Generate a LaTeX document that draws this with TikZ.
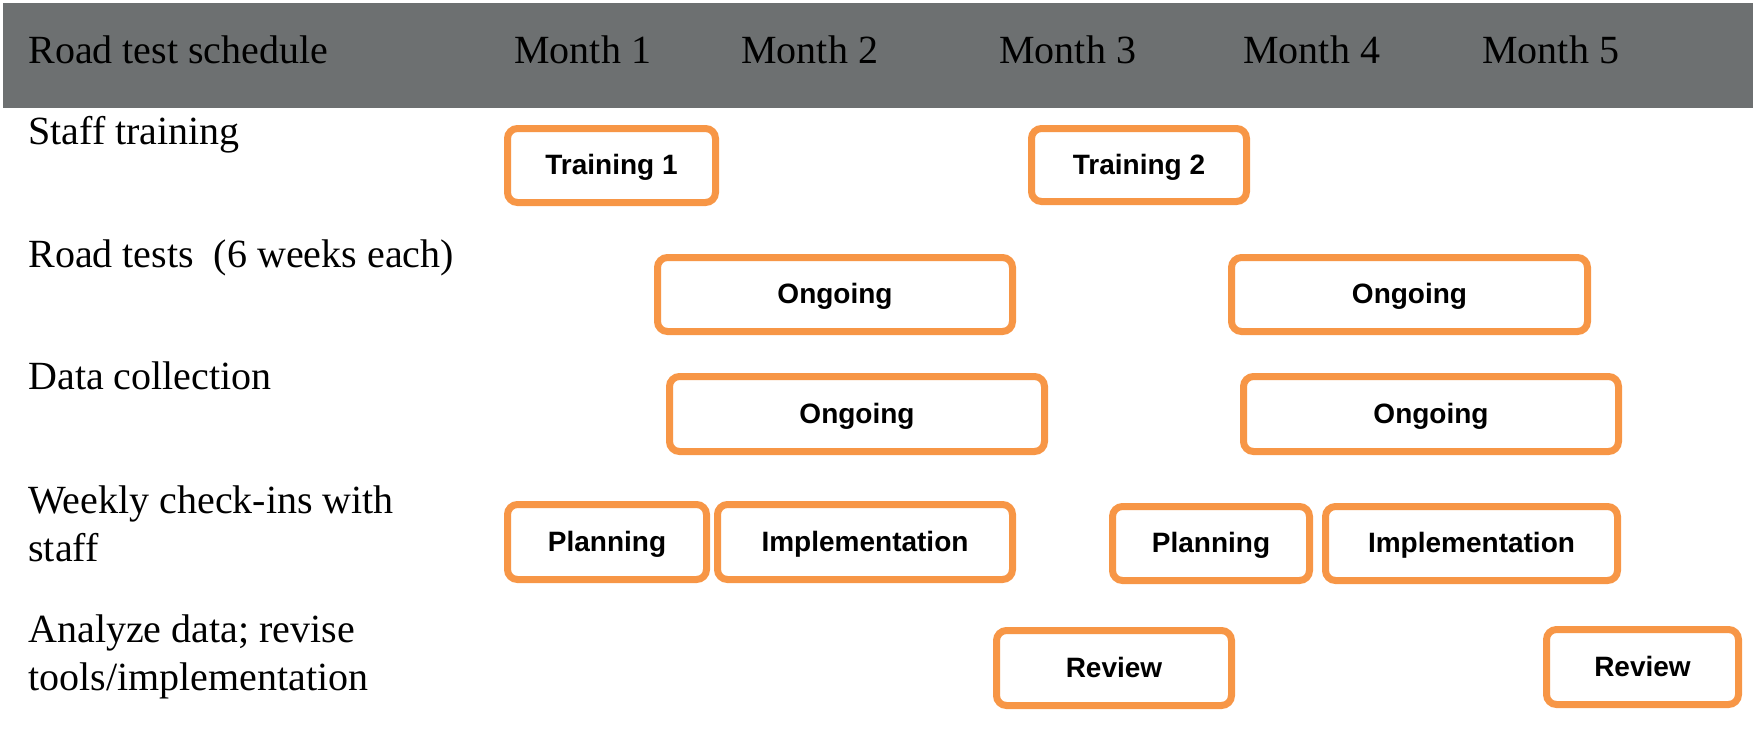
\documentclass[tikz,border=0pt]{standalone}
\usepackage{fontspec}
\setmainfont{Liberation Serif}
\newfontfamily\boxfont{Liberation Sans}[BoldFont={* Bold}]
\definecolor{headgray}{RGB}{109,112,113}
\definecolor{taskorange}{RGB}{247,150,70}
\tikzset{
  rowlabel/.style={anchor=base west, inner sep=0pt, align=left,
    font=\fontsize{20}{24}\selectfont},
  headlabel/.style={anchor=base west, inner sep=0pt,
    font=\fontsize{20}{24}\selectfont},
  taskbox/.style={draw=taskorange, line width=3.5pt, fill=white,
    rounded corners=5pt, inner sep=0pt, text height=9pt, text depth=0pt,
    font=\boxfont\bfseries\fontsize{14}{16}\selectfont}
}
% \taskslot{name}{left}{right}{top}{bottom}{text}: outer edges in px
\newcommand{\taskslot}[6]{%
  \pgfmathsetmacro{\tw}{(#3-#2-7)*0.5}%
  \pgfmathsetmacro{\th}{(#5-#4-7)*0.5}%
  \node[taskbox, minimum width=\tw pt, minimum height=\th pt]
    (#1) at ({(#2+#3)/2},{(#4+#5)/2}) {#6};}
\begin{document}
\begin{tikzpicture}[x=0.5pt,y=-0.5pt]
\useasboundingbox (0,0) rectangle (1756,745);
% header band
\fill[headgray] (3,3) rectangle (1753,108);
\node[headlabel] (title) at (28,63) {Road test schedule};
\node[headlabel] (m1) at (514,63) {Month 1};
\node[headlabel] (m2) at (741,63) {Month 2};
\node[headlabel] (m3) at (999,63) {Month 3};
\node[headlabel] (m4) at (1243,63) {Month 4};
\node[headlabel] (m5) at (1482,63) {Month 5};
% activity labels (two-line labels sit on the baseline of their last line)
\node[rowlabel] (lstaff) at (28,144) {Staff training};
\node[rowlabel] (lroad) at (28,267) {Road tests\ \ (6 weeks each)};
\node[rowlabel] (ldata) at (28,389) {Data collection};
\node[rowlabel] (lweek) at (28,561) {Weekly check-ins with\\staff};
\node[rowlabel] (lanal) at (28,690) {Analyze data; revise\\tools/implementation};
% scheduled tasks
\taskslot{train1}{504}{719}{125}{206}{Training 1}
\taskslot{train2}{1028}{1250}{125}{205}{Training 2}
\taskslot{road1}{654}{1016}{254}{335}{Ongoing}
\taskslot{road2}{1228}{1591}{254}{335}{Ongoing}
\taskslot{data1}{666}{1048}{373}{455}{Ongoing}
\taskslot{data2}{1240}{1622}{373}{455}{Ongoing}
\taskslot{plan1}{504}{710}{501}{583}{Planning}
\taskslot{impl1}{714}{1016}{501}{583}{Implementation}
\taskslot{plan2}{1109}{1313}{503}{584}{Planning}
\taskslot{impl2}{1322}{1621}{503}{584}{Implementation}
\taskslot{rev1}{993}{1235}{627}{709}{Review}
\taskslot{rev2}{1543}{1742}{626}{708}{Review}
\end{tikzpicture}
\end{document}
